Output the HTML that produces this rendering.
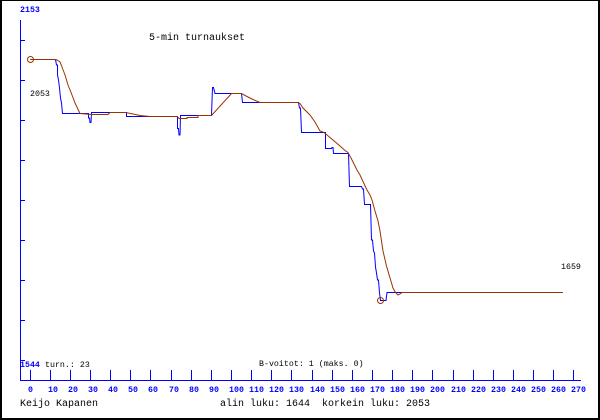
<!DOCTYPE html>
<html><head><meta charset="utf-8"><style>
html,body{margin:0;padding:0;background:#fff;}
svg{display:block;}
text{font-family:"Liberation Mono","DejaVu Sans Mono",monospace;}
</style></head><body>
<svg width="600" height="420" viewBox="0 0 600 420" xmlns="http://www.w3.org/2000/svg">
<rect x="0" y="0" width="600" height="420" fill="#fff"/>
<!-- border -->
<rect x="0" y="0" width="600" height="1" fill="#000"/>
<rect x="0" y="0" width="2" height="420" fill="#000"/>
<rect x="598" y="0" width="2" height="420" fill="#000"/>
<rect x="0" y="418" width="600" height="2" fill="#000"/>

<g stroke="#0000ff" stroke-width="1" shape-rendering="crispEdges" fill="none">
<line x1="20.5" y1="20" x2="20.5" y2="381"/>
<line x1="20" y1="380.5" x2="581" y2="380.5"/>
<path d="M20 40.5h5M20 80.5h5M20 120.5h5M20 160.5h5M20 200.5h5M20 240.5h5M20 280.5h5M20 320.5h5M20 360.5h5"/>
<path d="M30.5 370v10M50.5 370v10M70.5 370v10M90.5 370v10M110.5 370v10M130.5 370v10M150.5 370v10
M171.5 370v10M191.5 370v10M211.5 370v10M231.5 370v10M251.5 370v10M271.5 370v10M291.5 370v10
M312.5 370v10M332.5 370v10M352.5 370v10M372.5 370v10M392.5 370v10M412.5 370v10M432.5 370v10
M453.5 370v10M473.5 370v10M493.5 370v10M513.5 370v10M533.5 370v10M553.5 370v10M573.5 370v10"/>
</g>

<g font-size="8.3" font-weight="bold" fill="#0000ff">
<text x="28" y="392">0</text>
<text x="48" y="392">10</text>
<text x="68" y="392">20</text>
<text x="88" y="392">30</text>
<text x="108" y="392">40</text>
<text x="128" y="392">50</text>
<text x="148" y="392">60</text>
<text x="169" y="392">70</text>
<text x="189" y="392">80</text>
<text x="209" y="392">90</text>
<text x="229" y="392">100</text>
<text x="249" y="392">110</text>
<text x="269" y="392">120</text>
<text x="289" y="392">130</text>
<text x="310" y="392">140</text>
<text x="330" y="392">150</text>
<text x="350" y="392">160</text>
<text x="370" y="392">170</text>
<text x="390" y="392">180</text>
<text x="410" y="392">190</text>
<text x="430" y="392">200</text>
<text x="451" y="392">210</text>
<text x="471" y="392">220</text>
<text x="491" y="392">230</text>
<text x="511" y="392">240</text>
<text x="531" y="392">250</text>
<text x="551" y="392">260</text>
<text x="571" y="392">270</text>
<text x="20" y="12">2153</text>
<text x="20" y="367">1544</text>
</g>

<g font-size="8.3" fill="#000">
<text x="45" y="367">turn.: 23</text>
<text x="259" y="366">B-voitot: 1 (maks. 0)</text>
<text x="30" y="96">2053</text>
<text x="561" y="269">1659</text>
</g>

<g font-size="10" fill="#000">
<text x="149" y="40">5-min turnaukset</text>
<text x="20" y="406">Keijo Kapanen</text>
<text x="220" y="406">alin luku: 1644</text>
<text x="322" y="406">korkein luku: 2053</text>
</g>

<!-- blue series -->
<polyline fill="none" stroke="#0000ff" stroke-width="1" points="
30,59.5 55.5,59.5 56.5,65 57.5,65 57.5,75 58.5,80 59.5,88 60.5,98 61.5,103 62.5,113.5
88.5,113.5 88.5,118 89.5,118 90,122.5 91,122.5 91.5,112.5 126.5,112.5 126.5,116.5
177.5,116.5 177.5,128.5 178.5,128.5 179,135 180,135 180.5,115.5 211.5,115.5 212.5,87.5
213.5,87.5 215,93.5 241.5,93.5 242.5,102.5 298.5,102.5 299.5,108 300.5,108 301.5,132.5
325.5,132.5 325.5,148.5 331.5,148.5 332,147.5 333,147.5 333.5,153.5 348.5,153.5 349.5,186.5
361.5,186.5 362.5,189 363.5,189 364.5,204.5 370.5,204.5 371.5,240 372.5,240 373.5,251
374.5,253 375.5,267 376.5,273 377.5,280 378.5,280 379.5,293 380.5,300.5 386,300.5
387,292.5 403,292.5"/>

<!-- brown series -->
<polyline fill="none" stroke="#993300" stroke-width="1" points="
30,59.5 56,59.5 58,60.5 60,62 62,67 65,75 68,85 72,95 75,103 80,113.5 92,114.5 108,114.5
110,112.5 126,112.5 133,114 140,115.5 150,116.5 177,116.5 179,118.5 187,118.5 187,117.5
198,117.5 198,115.5 211.5,115.5 231.5,93.5 241.5,93.5 247,96.5 253,99.5 260,102.5
297.5,102.5 300,103.5 303,108 310,115 315,122 320,131 324,132.5 327,135 333,140 340,146
345,150.5 348,152.5 351,158 357,170 360,175 363,181.5 367,190 370,195 372,200 375,211
378,221 380,231 381.5,241 383,251 386.5,266 390,278 393,288 395.5,292.5 398,295 400,294
402,292.5 563,292.5"/>

<circle cx="30.5" cy="59.5" r="3" fill="none" stroke="#993300" stroke-width="1"/>
<circle cx="380.5" cy="300.5" r="3" fill="none" stroke="#993300" stroke-width="1"/>
</svg>
</body></html>
